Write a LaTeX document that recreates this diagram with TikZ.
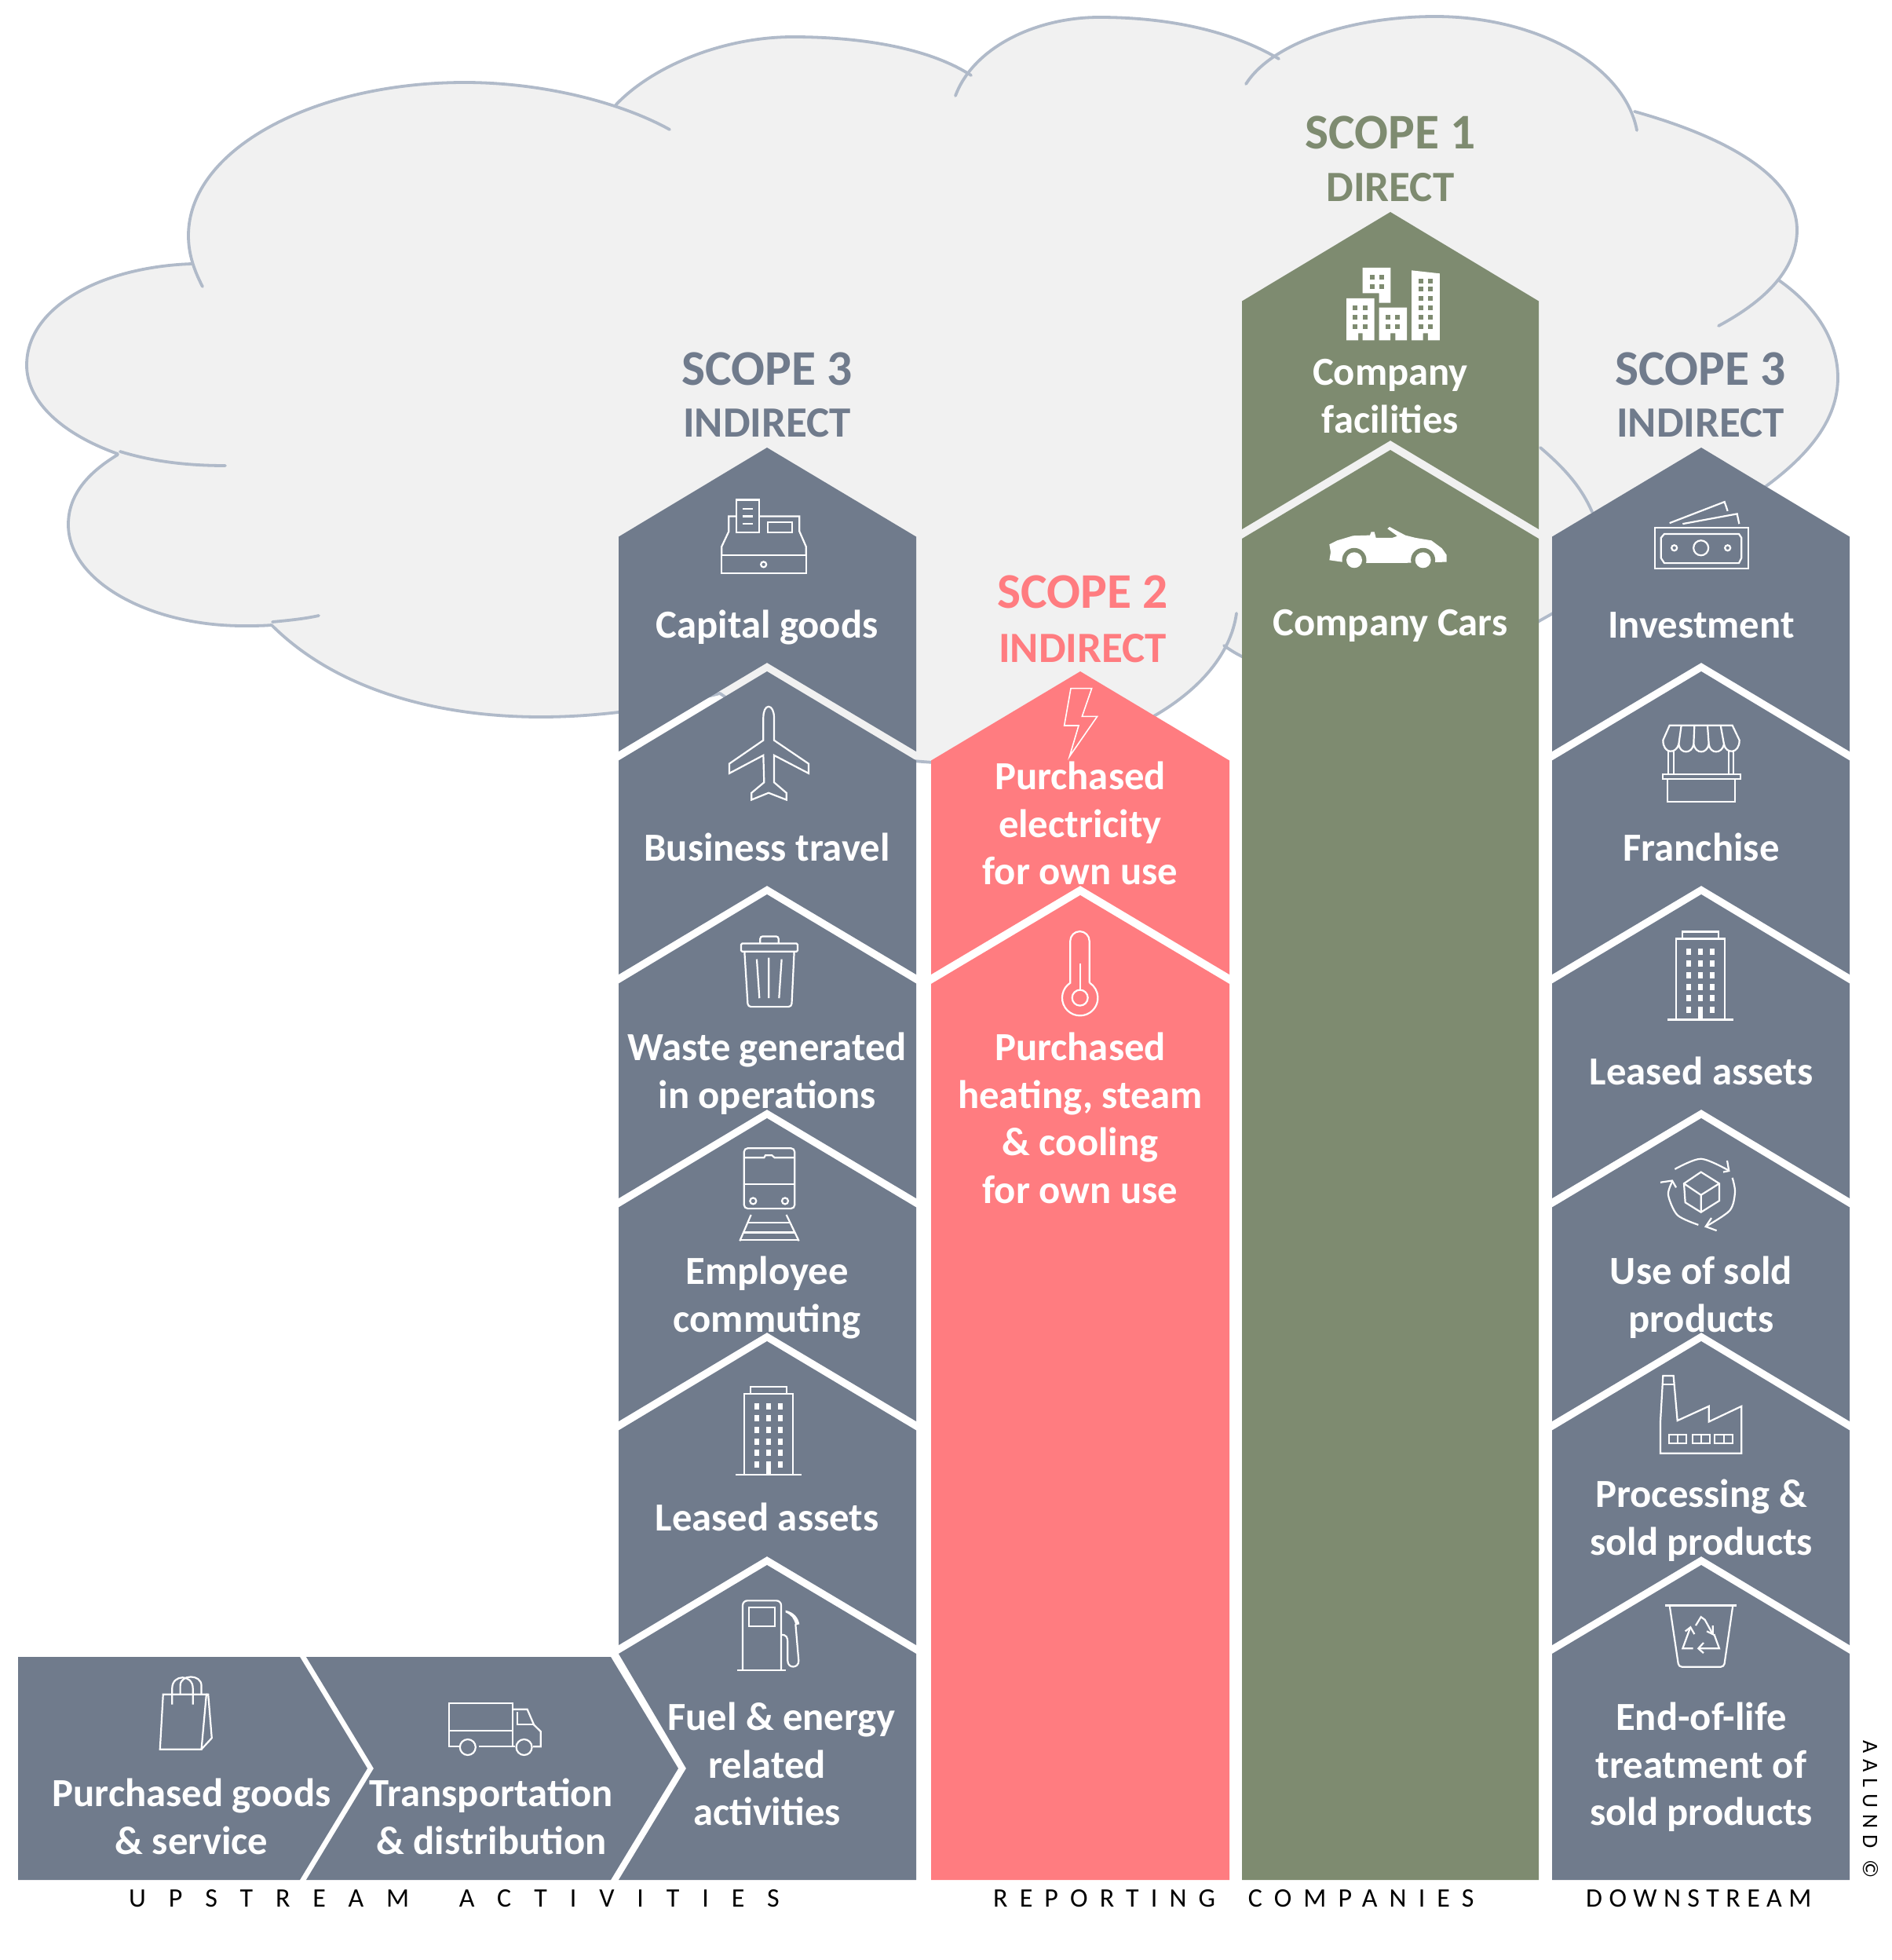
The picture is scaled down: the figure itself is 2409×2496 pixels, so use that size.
\documentclass[tikz,border=0pt]{standalone}
\usepackage{fontspec}
\setmainfont{Carlito}
\definecolor{slateC}{HTML}{707B8C}
\definecolor{redC}{HTML}{FF7C80}
\definecolor{greenC}{HTML}{7E8B70}
\definecolor{cloudF}{HTML}{F1F1F1}
\definecolor{cloudL}{HTML}{B0BAC9}
\tikzset{
  zm/.style n args={4}{shift={(#1pt,-#2pt)},x=#3pt,y=-#4pt},
  icon/.style={draw=white,line width=2.2pt,line join=miter,fill=none},
  cloudline/.style={draw=cloudL,line width=3.8pt,line cap=round},
  lbl/.style={anchor=north,inner sep=0pt,align=center,text=white,font=\fontsize{50.7}{60.5}\selectfont\bfseries},
  ttl/.style={inner sep=0pt,anchor=base,font=\fontsize{63.5}{66}\selectfont\bfseries},
  sub/.style={inner sep=0pt,anchor=base,font=\fontsize{55}{60}\selectfont\bfseries},
  foot/.style={inner sep=0pt,anchor=base west,text=black}
}
\newcommand\lbltxt[4]{\node[lbl] (#1) at (#2,#3-19.5) {\rule{0pt}{36pt}#4};}
% x left, x centre, x right, top apex, notch apex, colour
\newcommand\sect[6]{\fill[#6] (#1,#4+113.5) -- (#2,#4) -- (#3,#4+113.5) -- (#3,#5+113) -- (#2,#5) -- (#1,#5+113) -- cycle;}
\newcommand\bldg[2]{%
 \begin{scope}[shift={(#1pt,-#2pt)}]
  \draw[icon] (-23,9) -- (-23,0) -- (23,0) -- (23,9);
  \draw[icon] (-31,112) -- (-31,9) -- (31,9) -- (31,112);
  \draw[icon] (-42,112) -- (42,112);
  \foreach \r in {25,40,55,70,84}{\foreach \c in {-15,0,15}{\fill[white] (\c-3,\r-4) rectangle (\c+3,\r+4);}}
  \fill[white] (-18,95) rectangle (-12,103); \fill[white] (12,95) rectangle (18,103);
  \fill[white] (-3,95) rectangle (3,112);
 \end{scope}}
\def\pB{(258,365) .. controls (245,340) and (240,320) .. (240,300) .. controls (240,190) and (400,105) .. (592,105) .. controls (690,105) and (790,130) .. (853,165)}
\def\pC{(784,134) .. controls (830,85) and (920,47) .. (1010,47) .. controls (1100,47) and (1185,62) .. (1237,96)}
\def\pD{(1217,122) .. controls (1240,60) and (1320,22) .. (1400,22) .. controls (1490,22) and (1570,40) .. (1629,75)}
\def\pE{(1587,107) .. controls (1620,55) and (1720,21) .. (1828,21) .. controls (1960,21) and (2070,85) .. (2085,166)}
\def\pF{(2082,142) .. controls (2200,175) and (2289,225) .. (2289,293) .. controls (2289,345) and (2245,385) .. (2189,415)}
\def\pG{(2266,357) .. controls (2320,395) and (2341,440) .. (2341,481) .. controls (2341,560) and (2260,620) .. (2160,675) .. controls (2100,710) and (2030,752) .. (1962,790) .. controls (1850,860) and (1650,890) .. (1559,822)}
\def\pH{(1575,781) .. controls (1560,890) and (1400,972) .. (1225,972) .. controls (1110,972) and (1000,940) .. (917,883)}
\def\pI{(917,883) .. controls (850,900) and (770,913) .. (689,913) .. controls (560,913) and (430,880) .. (346,796)}
\def\pJ{(346,796) .. controls (335,797) and (322,797) .. (310,797) .. controls (190,797) and (87,740) .. (87,668) .. controls (87,630) and (112,602) .. (150,579)}
\def\pK{(150,578) .. controls (80,553) and (34,512) .. (34,465) .. controls (34,390) and (130,340) .. (244,336)}
\newcommand\lob[1]{\edef\tmpl{\noexpand\draw[cloudline] #1;}\tmpl}
\begin{document}
\begin{tikzpicture}[x=1pt,y=-1pt]
\useasboundingbox (0,0) rectangle (2409,2496);
% cloud
\edef\tmpf{\noexpand\fill[cloudF] \pB -- \pC -- \pD -- \pE -- \pF -- \pG -- \pH -- \pI -- \pJ -- \pK -- cycle;}
\tmpf
\lob{\pB}\lob{\pC}\lob{\pD}\lob{\pE}\lob{\pF}\lob{\pG}\lob{\pH}\lob{\pI}\lob{\pJ}\lob{\pK}
\draw[cloudline] (153,575) .. controls (195,588) and (240,593) .. (287,593);
\draw[cloudline] (347,792) .. controls (368,790) and (388,788) .. (406,784);
\draw[cloudline] (1962,570) .. controls (1995,598) and (2015,622) .. (2028,652);
% upstream chevrons
\fill[slateC] (23,2110) -- (382,2110) -- (468,2252) -- (382,2394) -- (23,2394) -- cycle;
\fill[slateC] (390,2110) -- (778,2110) -- (864,2252) -- (778,2394) -- (390,2394) -- (476,2252) -- cycle;
% left scope 3 column
\sect{788}{977}{1167}{570}{844}{slateC}
\sect{788}{977}{1167}{855}{1128}{slateC}
\sect{788}{977}{1167}{1139}{1413}{slateC}
\sect{788}{977}{1167}{1424}{1697}{slateC}
\sect{788}{977}{1167}{1708}{1982}{slateC}
\fill[slateC] (788,2106) -- (977,1993) -- (1167,2106) -- (1167,2394) -- (788,2394) -- (874,2252) -- cycle;
% scope 2 column
\sect{1186}{1376}{1566}{855}{1128}{redC}
\fill[redC] (1186,1253) -- (1376,1140) -- (1566,1253) -- (1566,2394) -- (1186,2394) -- cycle;
% scope 1 column
\sect{1582}{1771}{1960}{270}{561}{greenC}
\fill[greenC] (1582,686) -- (1771,573) -- (1960,686) -- (1960,2394) -- (1582,2394) -- cycle;
% right scope 3 column
\sect{1977}{2167}{2356}{570}{844}{slateC}
\sect{1977}{2167}{2356}{855}{1128}{slateC}
\sect{1977}{2167}{2356}{1139}{1413}{slateC}
\sect{1977}{2167}{2356}{1424}{1697}{slateC}
\sect{1977}{2167}{2356}{1708}{1982}{slateC}
\fill[slateC] (1977,2106) -- (2167,1993) -- (2356,2106) -- (2356,2394) -- (1977,2394) -- cycle;
% icons: cash register and plane
\begin{scope}[zm={760}{560}{0.3333}{0.3827}]
 \draw[icon] (478,385) rectangle (800,445);
 \draw[icon] (478,385) -- (478,355) -- (505,305) -- (505,255) -- (535,255);
 \draw[icon] (620,255) -- (775,255) -- (775,305) -- (800,355) -- (800,385);
 \draw[icon] (535,200) rectangle (620,308);
 \draw[icon] (558,230) -- (598,230) (558,255) -- (598,255) (558,280) -- (598,280);
 \draw[icon] (653,275) rectangle (748,308);
 \draw[icon] (638,415) circle[radius=3.5pt];
 \draw[icon] (637,925) .. controls (637,903) and (645,888) .. (657,888) .. controls (669,888) and (678,903) .. (678,925) -- (678,1000) -- (810,1078) -- (810,1110) -- (678,1050) -- (678,1140) -- (725,1175) -- (725,1198) -- (657,1175) -- (592,1198) -- (592,1175) -- (640,1140) -- (637,1050) -- (507,1110) -- (507,1078) -- (637,1000) -- cycle;
\end{scope}
% trash and train
\begin{scope}[zm={760}{1150}{0.3333}{0.6061}]
 \draw[icon,rounded corners=1.5pt] (552,85) rectangle (768,102);
 \draw[icon,rounded corners=3pt] (625,85) -- (625,70) -- (695,70) -- (695,85);
 \draw[icon,rounded corners=4pt] (565,102) -- (578,218) -- (745,218) -- (755,102);
 \draw[icon] (612,118) -- (622,200) (658,115) -- (658,200) (707,118) -- (697,200);
 \draw[icon,rounded corners=5pt] (563,515) rectangle (757,642);
 \draw[icon] (563,590) -- (757,590);
 \draw[icon] (563,535) -- (640,535) -- (645,530) -- (670,530) -- (680,535) -- (757,535);
 \draw[icon] (598,626) circle[radius=4pt] (720,626) circle[radius=4pt];
 \draw[icon] (590,655) -- (547,710) (725,655) -- (773,710);
 \draw[icon] (578,672) -- (740,672) (562,692) -- (758,692) (547,708) -- (773,708);
\end{scope}
\bldg{979}{1766}
\bldg{2166}{1186.5}
% bag and truck
\begin{scope}[zm={0}{2050}{0.574}{0.3333}]
 \draw[icon] (362,323) -- (355,533) -- (447,533) -- (458,323) -- cycle;
 \draw[icon] (458,323) -- (462,323) -- (470,490) -- (447,533);
 \draw[icon] (382,362) -- (382,300) .. controls (382,245) and (428,245) .. (428,300) -- (428,362);
 \draw[icon] (400,323) -- (400,290) .. controls (400,245) and (447,245) .. (447,290) -- (447,323);
 \draw[icon] (1020,523) -- (997,523) -- (997,357) -- (1137,357) -- (1137,523) -- (1062,523);
 \draw[icon] (997,462) -- (1137,462);
 \draw[icon] (1137,380) -- (1170,380) -- (1185,440) -- (1200,465) -- (1200,523) -- (1183,523);
 \draw[icon] (1148,390) -- (1148,438) -- (1185,438);
 \draw[icon] (1137,523) -- (1143,523);
 \draw[icon] (1038,525) circle[radius=10pt] (1163,525) circle[radius=10pt];
\end{scope}
% fuel pump
\begin{scope}[zm={900}{2000}{0.3333}{0.3333}]
 \draw[icon,rounded corners=6pt] (138,382) -- (138,115) -- (285,115) -- (285,382);
 \draw[icon] (118,382) -- (303,382);
 \draw[icon] (163,142) rectangle (260,213);
 \draw[icon] (285,245) .. controls (305,245) and (310,255) .. (310,275) -- (310,345) .. controls (310,375) and (352,375) .. (352,345) -- (340,205);
 \fill[white] (302,152) .. controls (335,160) and (350,180) .. (355,205) -- (340,208) .. controls (335,185) and (325,170) .. (302,160) -- cycle;
\end{scope}
% money and shop
\begin{scope}[zm={1950}{560}{0.3333}{0.5102}]
 \draw[icon] (473,220) rectangle (830,322);
 \draw[icon] (497,245) -- (510,235) -- (795,235) -- (805,245) -- (805,295) -- (795,308) -- (510,308) -- (497,295) -- cycle;
 \draw[icon] (650,270) circle[radius=9.5pt];
 \draw[icon] (548,270) circle[radius=3.5pt] (752,270) circle[radius=3.5pt];
 \draw[icon] (530,208) -- (740,155) -- (752,178);
 \draw[icon] (580,210) -- (788,185) -- (796,210);
 \draw[icon] (530,713) -- (770,713) -- (797,750) .. controls (797,785) and (745,785) .. (738,760) .. controls (730,785) and (685,785) .. (680,760) .. controls (672,785) and (630,785) .. (622,760) .. controls (615,785) and (570,785) .. (565,760) .. controls (555,785) and (505,785) .. (505,750) -- cycle;
 \draw[icon] (575,713) -- (565,760) (625,713) -- (622,760) (675,713) -- (680,760) (725,713) -- (738,760);
 \draw[icon] (525,775) -- (525,835) (545,775) -- (545,835) (755,775) -- (755,835) (775,775) -- (775,835);
 \draw[icon] (503,835) rectangle (800,847);
 \draw[icon] (523,847) rectangle (780,903);
\end{scope}
% box, factory, bin
\begin{scope}[zm={1950}{1350}{0.3333}{0.731}]
 \draw[icon] (585,215) -- (650,195) -- (720,215) -- (720,245) -- (650,265) -- (590,248) -- cycle;
 \draw[icon] (585,215) -- (650,235) -- (720,215) (650,235) -- (650,265);
 \draw[icon] plot[smooth] coordinates {(550,190)(650,172)(755,192)};
 \draw[icon] (735,195) -- (757,193) -- (750,175);
 \draw[icon] plot[smooth] coordinates {(770,205)(780,230)(760,262)(668,290)};
 \draw[icon] (690,275) -- (668,290) -- (710,297);
 \draw[icon] plot[smooth] coordinates {(640,287)(560,270)(525,235)(540,212)};
 \draw[icon] (495,213) -- (540,210) -- (555,222);
 \draw[icon] (495,685) -- (495,630) -- (505,550) -- (545,550) -- (560,628) -- (680,603) -- (680,630) -- (805,603) -- (805,685) -- cycle;
 \draw[icon] (505,565) -- (548,565);
 \draw[icon] (527,652) rectangle (595,668) (560,652) -- (560,668);
 \draw[icon] (618,652) rectangle (685,668) (652,652) -- (652,668);
 \draw[icon] (703,652) rectangle (772,668) (738,652) -- (738,668);
 \draw[icon] (513,950) -- (787,950);
 \draw[icon,rounded corners=4pt] (530,950) -- (565,1057) -- (738,1057) -- (772,950);
 \draw[icon] (620,1025) -- (580,1025) -- (608,990);
 \draw[icon] (590,995) -- (610,988) -- (625,1000);
 \draw[icon] (630,985) -- (650,970) -- (665,975) -- (695,1000);
 \draw[icon] (695,985) -- (695,1000) -- (672,995);
 \draw[icon] (700,1000) -- (720,1025) -- (640,1025);
 \draw[icon] (660,1015) -- (640,1025) -- (660,1033);
\end{scope}
% company buildings and car
\begin{scope}[zm={1560}{250}{0.3333}{0.3333}]
 \fill[white] (465,390) -- (572,390) -- (572,550) -- (527,550) -- (527,523) -- (510,523) -- (510,550) -- (465,550) -- cycle;
 \fill[white] (527,273) -- (634,273) -- (634,407) -- (590,407) -- (590,370) -- (527,370) -- cycle;
 \fill[white] (590,425) -- (696,425) -- (696,550) -- (652,550) -- (652,523) -- (633,523) -- (633,550) -- (590,550) -- cycle;
 \fill[white] (714,283) -- (822,295) -- (822,550) -- (777,550) -- (777,523) -- (758,523) -- (758,550) -- (714,550) -- cycle;
 \foreach \x/\y in {490/417,527/417,490/452,527/452,490/488,527/488,555/300,590/300,555/335,590/335,615/452,652/452,615/488,652/488,741/315,777/315,741/345,777/345,741/380,777/380,741/417,777/417,741/452,777/452,741/488,777/488}{\fill[greenC] (\x,\y) rectangle (\x+18,\y+18);}
 \fill[white] (400,1330) -- (430,1315) -- (490,1297) -- (555,1295) -- (560,1282) -- (572,1282) -- (578,1305) -- (640,1305) -- (660,1298) -- (622,1270) -- (630,1263) -- (690,1295) -- (730,1305) -- (790,1315) -- (830,1345) -- (848,1370) -- (848,1397) -- (712,1400) -- (540,1405) -- (448,1397) -- (400,1390) -- (405,1360) -- cycle;
 \fill[greenC] (495,1390) circle[radius=15.5pt] (758,1390) circle[radius=15.5pt];
 \fill[greenC] (440,1400) rectangle (800,1425);
 \fill[white] (495,1390) circle[radius=10pt] (758,1390) circle[radius=10pt];
\end{scope}
% lightning and thermometer
\begin{scope}[zm={1170}{840}{0.3333}{0.3333}]
 \draw[icon,line width=1.6pt] (582,110) -- (662,110) -- (625,217) -- (683,217) -- (577,370) -- (612,252) -- (557,252) -- cycle;
 \draw[icon] (653,1235) -- (653,1075) arc[start angle=0,end angle=180,radius=12.2pt] -- (580,1235) arc[start angle=123,end angle=417,radius=22.7pt];
 \draw[icon] (617,1292) circle[radius=10pt];
 \draw[icon] (617,1160) -- (617,1262);
\end{scope}
% titles
\node[ttl,text=slateC] (s3l) at (977,490) {SCOPE 3};
\node[sub,text=slateC] (i3l) at (977,556) {INDIRECT};
\node[ttl,text=redC] (s2) at (1379,774) {SCOPE 2};
\node[sub,text=redC] (i2) at (1379,843) {INDIRECT};
\node[ttl,text=greenC] (s1) at (1771,190) {SCOPE 1};
\node[sub,text=greenC] (d1) at (1771,257) {DIRECT};
\node[ttl,text=slateC] (s3r) at (2166,490) {SCOPE 3};
\node[sub,text=slateC] (i3r) at (2166,556) {INDIRECT};
% labels
\lbltxt{t1}{244}{2284}{Purchased goods\\\& service}
\lbltxt{t2}{626}{2284}{Transportation\\\& distribution}
\lbltxt{t3}{977}{2187}{\hspace*{37pt}Fuel \& energy\\related\\activities}
\lbltxt{t4}{977}{1933}{Leased assets}
\lbltxt{t5}{977}{1619}{Employee\\commuting}
\lbltxt{t6}{977}{1334}{Waste generated\\in operations}
\lbltxt{t7}{977}{1080}{Business travel}
\lbltxt{t8}{977}{796}{Capital goods}
\lbltxt{t9}{1376}{989}{Purchased\\electricity\\for own use}
\lbltxt{t10}{1376}{1334}{Purchased\\heating, steam\\\& cooling\\for own use}
\lbltxt{t11}{1771}{474}{Company\\facilities}
\lbltxt{t12}{1771}{793}{Company Cars}
\lbltxt{t13}{2167}{796}{Investment}
\lbltxt{t14}{2167}{1080}{Franchise}
\lbltxt{t15}{2167}{1365}{Leased assets}
\lbltxt{t16}{2167}{1619}{Use of sold\\products}
\lbltxt{t17}{2167}{1903}{Processing \&\\sold products}
\lbltxt{t18}{2167}{2187}{End-of-life\\treatment of\\sold products}
% footers
\node[foot,font=\fontsize{34}{40}\selectfont\addfontfeature{LetterSpace=85}] (up) at (164,2428) {UPSTREAM\hspace{27pt} ACTIVITIES};
\node[foot,font=\fontsize{34}{40}\selectfont\addfontfeature{LetterSpace=44.5}] (rep) at (1265,2428) {REPORTING\hspace{19pt} COMPANIES};
\node[foot,font=\fontsize{34}{40}\selectfont\addfontfeature{LetterSpace=25}] (down) at (2020,2428) {DOWNSTREAM};
\node[foot,rotate=-90,font=\fontsize{28}{32}\selectfont\addfontfeature{LetterSpace=29}] (cr) at (2373,2216) {AALUND ©};
\end{tikzpicture}
\end{document}
